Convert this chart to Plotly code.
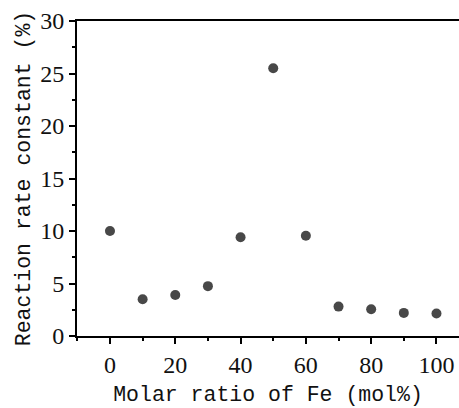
import plotly.graph_objects as go

fe_ratio = [0, 10, 20, 30, 40, 50, 60, 70, 80, 90, 100]
rate_const = [10.0, 3.5, 3.9, 4.75, 9.4, 25.5, 9.55, 2.8, 2.55, 2.2, 2.15]
x_ticks = [0, 20, 40, 60, 80, 100]
y_ticks = [0, 5, 10, 15, 20, 25, 30]

fig = go.Figure()
fig.add_trace(go.Scatter(
    x=fe_ratio, y=rate_const, mode="markers",
    marker=dict(size=10, color="#484848"),
    showlegend=False,
))

tick_font = dict(family="Liberation Serif", size=24, color="#111")
title_font = dict(family="Liberation Mono", size=21.5, color="#111")

fig.update_layout(
    width=459, height=408,
    font=dict(family="Liberation Serif"),
    margin=dict(l=77, r=0, t=21, b=72),
    paper_bgcolor="white", plot_bgcolor="white",
    xaxis=dict(
        range=[-10.1, 106.9], tickvals=x_ticks, ticks="outside", ticklen=6,
        tickwidth=1.5, tickcolor="black",
        minor=dict(dtick=10, tick0=0, ticks="outside", ticklen=3, tickwidth=1.5, tickcolor="black"),
        showline=True, linecolor="black", linewidth=2, mirror=True,
        showgrid=False, zeroline=False, tickfont=tick_font,
        title=dict(text="Molar ratio of Fe (mol%)", font=title_font, standoff=9),
    ),
    yaxis=dict(
        range=[0, 30], tickvals=y_ticks, ticks="outside", ticklen=6,
        tickwidth=1.5, tickcolor="black",
        minor=dict(dtick=2.5, tick0=0, ticks="outside", ticklen=3, tickwidth=1.5, tickcolor="black"),
        showline=True, linecolor="black", linewidth=2,
        showgrid=False, zeroline=False, tickfont=tick_font,
        title=dict(text="Reaction rate constant (%)", font=title_font, standoff=4),
    ),
)

fig.write_html("out.html")
